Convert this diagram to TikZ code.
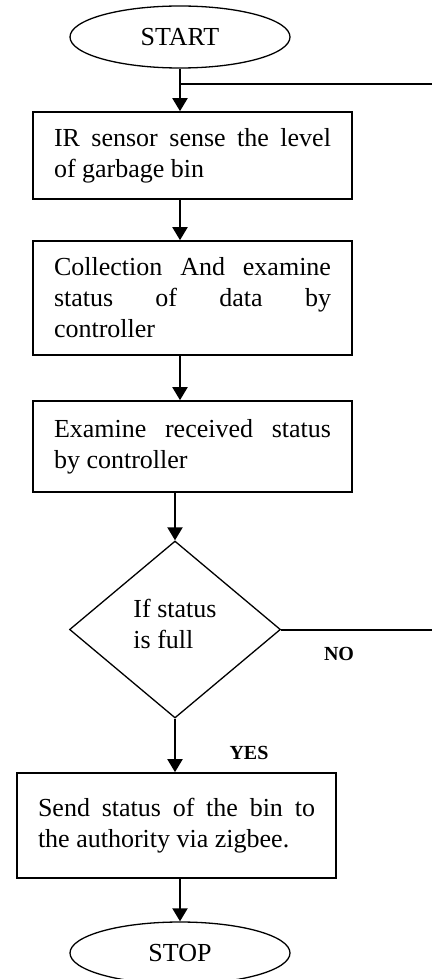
\documentclass[tikz,border=0pt]{standalone}
\usepackage{fontspec}
\setmainfont{Liberation Serif}
\usetikzlibrary{shapes.geometric,arrows.meta,calc}
\begin{document}
\begin{tikzpicture}[x=1pt,y=-1pt,
  every node/.style={font=\fontsize{26}{31}\selectfont},
  term/.style={draw,ellipse,line width=1.3pt,minimum width=220pt,minimum height=62pt,inner sep=0pt},
  proc/.style={draw,rectangle,line width=1.7pt,minimum width=319pt,text width=277pt,align=justify,inner xsep=21pt,inner ysep=0pt},
  dec/.style={draw,diamond,line width=1.3pt,minimum width=211pt,minimum height=177pt,inner sep=0pt},
  lbl/.style={font=\fontsize{20}{24}\selectfont\bfseries},
  arr/.style={line width=2pt,-{Triangle[width=15pt,length=13pt]}},
  conn/.style={line width=2pt}]
\useasboundingbox (0,0) rectangle (432,979);
\node[term] (start) at (180,37) {START};
\node[proc,minimum height=87pt] (b1) at (192.5,155.5) {IR sensor sense the level\linebreak of garbage bin};
\node[proc,minimum height=114pt] (b2) at (192.5,298) {Collection And examine\linebreak status of data by\linebreak controller};
\node[proc,minimum height=91pt] (b3) at (192.5,446.5) {Examine received status\linebreak by controller};
\node[dec,label={[align=left,yshift=5.5pt]center:{If status\\is full}}] (d) at (175,629.5) {};
\node[proc,minimum height=105pt] (b4) at (176.5,825.5) {Send status of the bin to\linebreak the authority via zigbee.\par\vspace{17pt}};
\node[term] (stop) at (180,953) {STOP};
\node[lbl] (no) at (339,654) {NO};
\node[lbl] (yes) at (249,753) {YES};
\coordinate (r2) at (432,84);
\coordinate (r1) at (432,629.5);
\coordinate (j) at (start.south |- r2);
\draw[arr] (start.south) -- (start.south |- b1.north);
\draw[conn] (j) -- (r2);
\draw[arr] (b1.south -| start) -- (b2.north -| start);
\draw[arr] (b2.south -| start) -- (b3.north -| start);
\draw[arr] (b3.south -| d.north) -- (d.north);
\draw[conn] (d.east) -- (r1);
\draw[arr] (d.south) -- (d.south |- b4.north);
\draw[arr] (b4.south -| stop) -- (stop.north);
\end{tikzpicture}
\end{document}
